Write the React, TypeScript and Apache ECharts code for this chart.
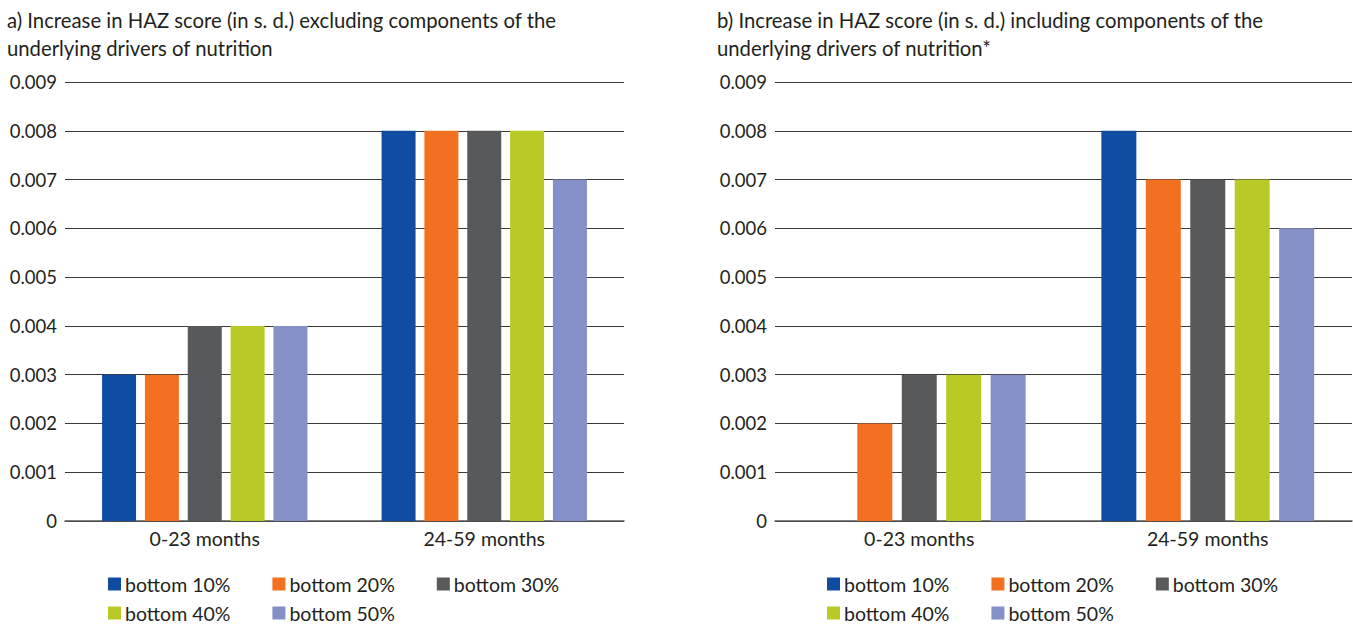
import React, { useEffect, useRef } from "react";
import * as echarts from "echarts";

const categories = ["0-23 months", "24-59 months"];
const seriesNames = ["bottom 10%", "bottom 20%", "bottom 30%", "bottom 40%", "bottom 50%"];
const colors = ["#0E4DA1", "#F37021", "#58595B", "#B9C925", "#8490C8"];
// values per series: [0-23 months, 24-59 months]
const excluding = [
  [0.003, 0.008],
  [0.003, 0.008],
  [0.004, 0.008],
  [0.004, 0.008],
  [0.004, 0.007],
];
const including = [
  [0, 0.008],
  [0.002, 0.007],
  [0.003, 0.007],
  [0.003, 0.007],
  [0.003, 0.006],
];
const titleA = "a) Increase in HAZ score (in s. d.) excluding components of the\nunderlying drivers of nutrition";
const titleB = "b) Increase in HAZ score (in s. d.) including components of the\nunderlying drivers of nutrition*";

const FONT = "Lato";
const TXT = "#231f20";

export default function App() {
  const ref = useRef<HTMLDivElement>(null);
  useEffect(() => {
    if (!ref.current) return;
    const chart = echarts.init(ref.current, undefined, { renderer: "svg" });
    const grids = [
      { left: 65, width: 559, top: 82, height: 439 },
      { left: 775, width: 577, top: 82, height: 439 },
    ];
    const xAxis = grids.map((_, i) => ({
      type: "category",
      gridIndex: i,
      data: categories,
      axisTick: { show: false },
      axisLine: { lineStyle: { color: "#555", width: 1.5 } },
      axisLabel: { color: TXT, fontSize: 19.5, fontFamily: FONT, margin: 7 },
    }));
    const yAxis = grids.map((_, i) => ({
      type: "value",
      gridIndex: i,
      min: 0,
      max: 0.009,
      interval: 0.001,
      axisLine: { show: false },
      axisTick: { show: false },
      splitLine: { lineStyle: { color: "#3a3a3a", width: 1 } },
      axisLabel: {
        color: TXT,
        fontSize: 18.5,
        fontFamily: FONT,
        margin: 8,
        formatter: (v: number) => (v === 0 ? "0" : v.toFixed(3)),
      },
    }));
    const mk = (data: number[][], idx: number, bw: number, gap: string) =>
      seriesNames.map((name, k) => ({
        name,
        type: "bar",
        xAxisIndex: idx,
        yAxisIndex: idx,
        data: data[k],
        barWidth: bw,
        barGap: gap,
        itemStyle: { color: colors[k] },
      }));
    const legendBase = {
      itemWidth: 13,
      itemHeight: 13,
      itemGap: 42,
      icon: "rect",
      textStyle: { color: TXT, fontSize: 19.5, fontFamily: FONT, padding: [0, 0, 0, -1] },
      padding: 0,
      selectedMode: false,
    };
    const titleStyle = { color: TXT, fontSize: 20.3, fontWeight: "normal", fontFamily: FONT, lineHeight: 28 };
    chart.setOption({
      animation: false,
      grid: grids,
      xAxis,
      yAxis,
      title: [
        { text: titleA, left: 7, top: 6, padding: 0, textStyle: titleStyle },
        { text: titleB, left: 717, top: 6, padding: 0, textStyle: titleStyle },
      ],
      legend: [
        { ...legendBase, data: seriesNames.slice(0, 3), left: 108, top: 574 },
        { ...legendBase, data: seriesNames.slice(3), left: 108, top: 603 },
        { ...legendBase, data: seriesNames.slice(0, 3), left: 827, top: 574 },
        { ...legendBase, data: seriesNames.slice(3), left: 827, top: 603 },
      ],
      series: [...mk(excluding, 0, 34, "26%"), ...mk(including, 1, 35, "27%")],
    });
    return () => chart.dispose();
  }, []);
  return <div ref={ref} style={{ width: 1353, height: 625, position: "absolute", left: 0, top: 0 }} />;
}
